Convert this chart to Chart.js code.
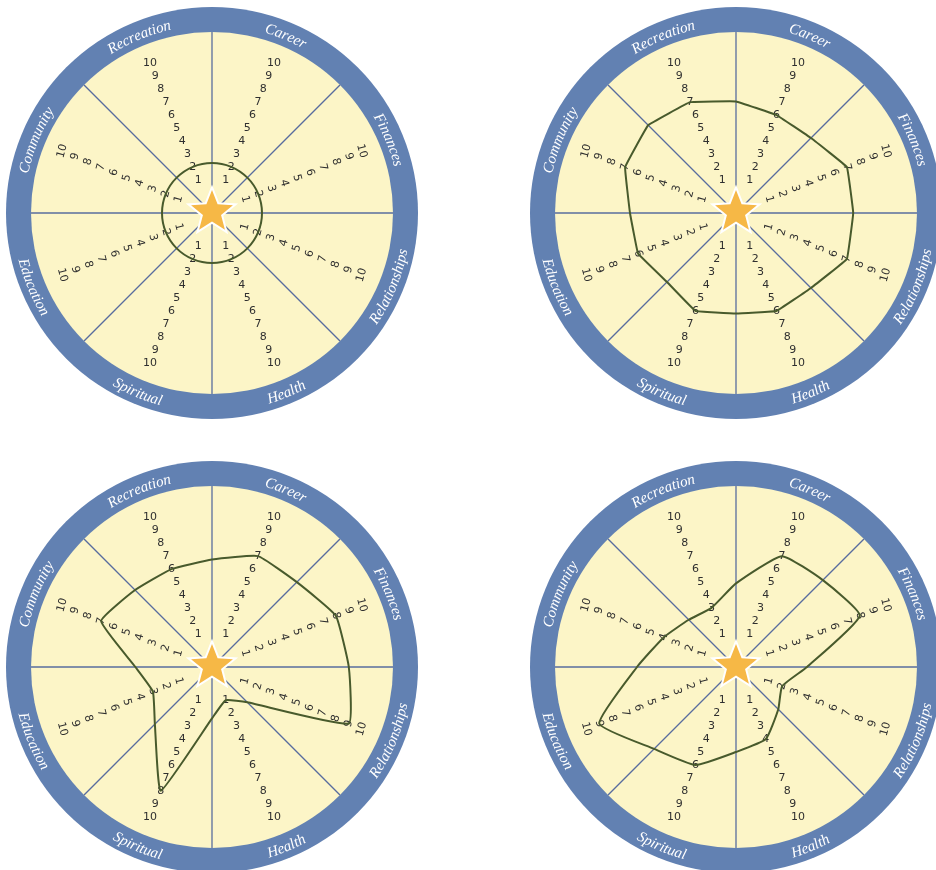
<!DOCTYPE html>
<html>
<head>
<meta charset="utf-8">
<title>Wheel of life</title>
<script src="https://cdn.jsdelivr.net/npm/chart.js@4.4.1/dist/chart.umd.min.js"></script>
<style>
  html, body { margin: 0; padding: 0; background: #fff; overflow: hidden; }
  body { width: 936px; height: 870px; position: relative; }
  canvas { position: absolute; }
</style>
</head>
<body>
<canvas id="wheel1" width="416" height="416" style="left:4px;top:5px"></canvas>
<canvas id="wheel2" width="416" height="416" style="left:528px;top:5px"></canvas>
<canvas id="wheel3" width="416" height="416" style="left:4px;top:459px"></canvas>
<canvas id="wheel4" width="416" height="416" style="left:528px;top:459px"></canvas>
<script>
// life areas, clockwise starting right of the top divider
const areas = ['Career', 'Finances', 'Relationships', 'Health', 'Spiritual', 'Education', 'Community', 'Recreation'];
const scaleNumbers = [1, 2, 3, 4, 5, 6, 7, 8, 9, 10];

// score marked on each area axis
const wheel1Scores = [2, 2, 2, 2, 2, 2, 2, 2];
const wheel2Scores = [6, 7, 7, 6, 6, 6, 7, 7];
const wheel3Scores = [7, 8, 9, 1, 8, 3, 7, 6];
const wheel4Scores = [7, 8, 2, 4, 6, 9, 4, 3];

// where the hand drawn line crosses the divider that follows each area (same scale)
const wheel1Dividers = [2, 2, 2, 2, 2, 2, 2, 2];
const wheel2Dividers = [6.0, 6.8, 6.0, 5.6, 5.4, 6.0, 7.3, 6.4];
const wheel3Dividers = [7.0, 8.2, 2.0, 2.1, 4.2, 3.9, 6.2, 6.1];
const wheel4Dividers = [7.2, 3.5, 2.7, 4.5, 6.7, 5.5, 3.2, 4.4];

const ringBlue = 'rgb(98, 129, 178)';
const paleYellow = 'rgb(252, 245, 199)';
const dividerBlue = 'rgb(88, 108, 158)';
const penGreen = 'rgb(72, 90, 44)';
const numberTilt = [0, 75, -75, 0, 0, 75, -75, 0];

function curvedText(ctx, text, cx, cy, rad, phi, flip) {
    const total = ctx.measureText(text).width;
    const dir = flip ? -1 : 1;
    let a = phi - dir * total / (2 * rad);
    for (const ch of text) {
        const w = ctx.measureText(ch).width;
        const mid = a + dir * w / (2 * rad);
        ctx.save();
        ctx.translate(cx + rad * Math.sin(mid), cy - rad * Math.cos(mid));
        ctx.rotate(flip ? mid + Math.PI : mid);
        ctx.fillText(ch, 0, 0);
        ctx.restore();
        a += dir * w / rad;
    }
}

function starPath(ctx, cx, cy, outer, inner) {
    ctx.beginPath();
    for (let i = 0; i < 10; i++) {
        const d = i % 2 ? inner : outer;
        const a = i * Math.PI / 5;
        const x = cx + d * Math.sin(a);
        const y = cy - d * Math.cos(a);
        if (i === 0) ctx.moveTo(x, y); else ctx.lineTo(x, y);
    }
    ctx.closePath();
}

const wheelPlugin = {
    id: 'wheel',
    beforeDraw(chart) {
        const ctx = chart.ctx;
        const r = chart.scales.r;
        const cx = r.xCenter, cy = r.yCenter, R = r.drawingArea;
        ctx.save();
        // ring and face
        ctx.beginPath();
        ctx.arc(cx, cy, R + 25, 0, Math.PI * 2);
        ctx.fillStyle = ringBlue;
        ctx.fill();
        ctx.beginPath();
        ctx.arc(cx, cy, R, 0, Math.PI * 2);
        ctx.fillStyle = paleYellow;
        ctx.fill();
        // dividers sit on the odd indices
        ctx.strokeStyle = dividerBlue;
        ctx.lineWidth = 1.3;
        for (let i = 1; i < chart.data.labels.length; i += 2) {
            const p = r.getPointPosition(i, R);
            ctx.beginPath();
            ctx.moveTo(cx, cy);
            ctx.lineTo(p.x, p.y);
            ctx.stroke();
        }
        // 1..10 along every area axis
        ctx.font = "11px 'DejaVu Sans'";
        ctx.fillStyle = '#2f2f2f';
        ctx.textAlign = 'center';
        ctx.textBaseline = 'middle';
        areas.forEach((name, k) => {
            scaleNumbers.forEach(n => {
                const p = r.getPointPositionForValue(k * 2, n);
                ctx.save();
                ctx.translate(p.x, p.y);
                ctx.rotate(numberTilt[k] * Math.PI / 180);
                ctx.fillText(String(n), 0, 0);
                ctx.restore();
            });
        });
        // area names round the ring
        ctx.font = "italic 15px 'Liberation Serif'";
        ctx.fillStyle = '#ffffff';
        ctx.textAlign = 'center';
        ctx.textBaseline = 'alphabetic';
        areas.forEach((name, k) => {
            const phi = r.getIndexAngle(k * 2);
            const bottom = phi > Math.PI / 2 && phi < Math.PI * 1.5;
            curvedText(ctx, name, cx, cy, bottom ? R + 18 : R + 7, phi, bottom);
        });
        ctx.restore();
    },
    afterDatasetsDraw(chart) {
        const ctx = chart.ctx;
        const r = chart.scales.r;
        ctx.save();
        starPath(ctx, r.xCenter, r.yCenter - 1, 22, 9.5);
        ctx.lineWidth = 4;
        ctx.strokeStyle = '#ffffff';
        ctx.stroke();
        ctx.fillStyle = 'rgb(246, 184, 70)';
        ctx.fill();
        ctx.restore();
    }
};

function makeWheel(id, scores, dividers, tension) {
    const labels = [];
    const values = [];
    areas.forEach((name, k) => {
        labels.push(name, '');
        values.push(scores[k], dividers[k]);
    });
    return new Chart(document.getElementById(id), {
        type: 'radar',
        data: {
            labels: labels,
            datasets: [{
                data: values,
                borderColor: penGreen,
                backgroundColor: 'rgba(0,0,0,0)',
                borderWidth: 2,
                pointRadius: 0,
                fill: false,
                tension: tension
            }]
        },
        plugins: [wheelPlugin],
        options: {
            responsive: false,
            animation: false,
            events: [],
            layout: { padding: 27 },
            plugins: {
                legend: { display: false },
                tooltip: { enabled: false }
            },
            scales: {
                r: {
                    min: -22 / 14,
                    max: (181 - 22) / 14,
                    startAngle: 22.5,
                    ticks: { display: false },
                    grid: { display: false },
                    angleLines: { display: false },
                    pointLabels: { display: false }
                }
            }
        }
    });
}

makeWheel('wheel1', wheel1Scores, wheel1Dividers, 0.4);
makeWheel('wheel2', wheel2Scores, wheel2Dividers, 0.05);
makeWheel('wheel3', wheel3Scores, wheel3Dividers, 0.12);
makeWheel('wheel4', wheel4Scores, wheel4Dividers, 0.15);
</script>
</body>
</html>
